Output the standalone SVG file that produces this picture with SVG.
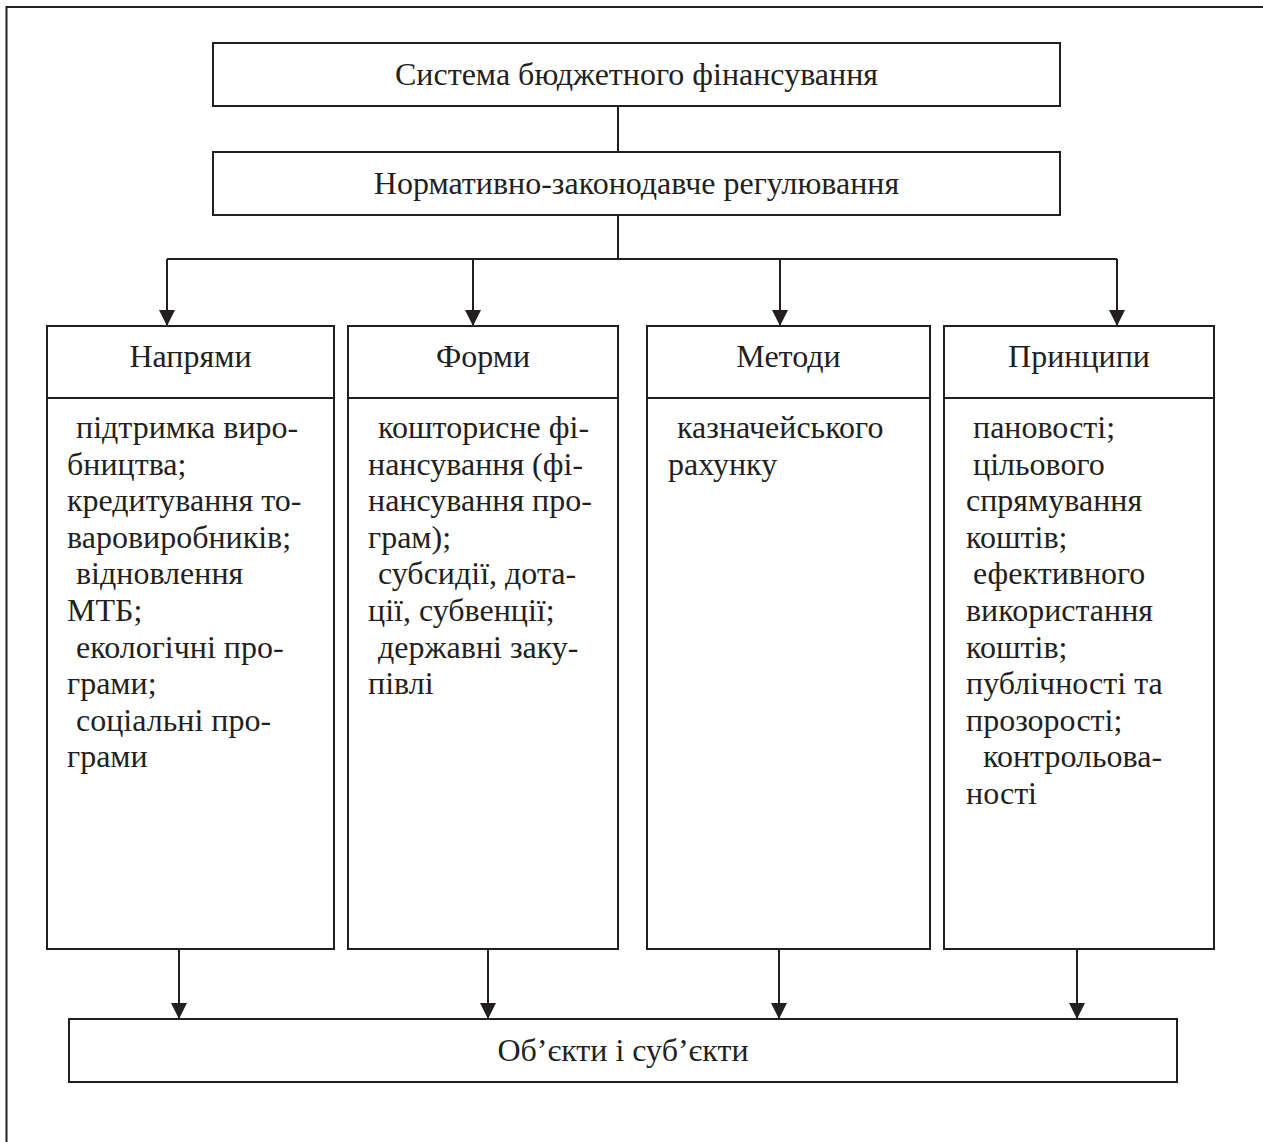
<svg xmlns="http://www.w3.org/2000/svg" width="1263" height="1142" viewBox="0 0 1263 1142">
<style>
.box{fill:#fff;stroke:#231f20;stroke-width:2}
.ln{fill:none;stroke:#231f20;stroke-width:2}
.t{font-family:"Liberation Serif","Times New Roman",serif;font-size:32px;fill:#231f20}
.c{text-anchor:middle}
</style>
<defs>
<marker id="ah" markerUnits="userSpaceOnUse" markerWidth="16" markerHeight="16" viewBox="0 0 16 16" refX="16" refY="8" orient="auto">
<path d="M0,0 L16,8 L0,16 Z" fill="#231f20"/>
</marker>
</defs>
<rect width="1263" height="1142" fill="#fff"/>
<g id="frame">
<path class="ln" d="M6.5,1142 V7 H1263"/>
</g>
<g id="connectors">
<path class="ln" d="M618,106 V152"/>
<path class="ln" d="M618,215 V259"/>
<path class="ln" d="M167,259 H1117"/>
<path class="ln" d="M167,259 V326" marker-end="url(#ah)"/>
<path class="ln" d="M473,259 V326" marker-end="url(#ah)"/>
<path class="ln" d="M780,259 V326" marker-end="url(#ah)"/>
<path class="ln" d="M1117,259 V326" marker-end="url(#ah)"/>
<path class="ln" d="M179,949 V1019" marker-end="url(#ah)"/>
<path class="ln" d="M488,949 V1019" marker-end="url(#ah)"/>
<path class="ln" d="M779,949 V1019" marker-end="url(#ah)"/>
<path class="ln" d="M1077,949 V1019" marker-end="url(#ah)"/>
</g>
<g id="n-system">
<rect class="box" x="213" y="43" width="847" height="63"/>
<text class="t c" x="636.5" y="85">Система бюджетного фінансування</text>
</g>
<g id="n-regulation">
<rect class="box" x="213" y="152" width="847" height="63"/>
<text class="t c" x="636.5" y="194">Нормативно-законодавче регулювання</text>
</g>
<g id="n-napriamy">
<rect class="box" x="47" y="326" width="287" height="623"/>
<path class="ln" d="M47,398 H334"/>
<text class="t c" x="190.5" y="367">Напрями</text>
<text class="t" x="76" y="438">підтримка виро-</text>
<text class="t" x="67" y="474.6">бництва;</text>
<text class="t" x="67" y="511.2">кредитування то-</text>
<text class="t" x="67" y="547.8">варовиробників;</text>
<text class="t" x="76" y="584.4">відновлення</text>
<text class="t" x="67" y="621">МТБ;</text>
<text class="t" x="76" y="657.6">екологічні про-</text>
<text class="t" x="67" y="694.2">грами;</text>
<text class="t" x="76" y="730.8">соціальні про-</text>
<text class="t" x="67" y="767.4">грами</text>
</g>
<g id="n-formy">
<rect class="box" x="348" y="326" width="270" height="623"/>
<path class="ln" d="M348,398 H618"/>
<text class="t c" x="483" y="367">Форми</text>
<text class="t" x="378" y="438">кошторисне фі-</text>
<text class="t" x="368" y="474.6">нансування (фі-</text>
<text class="t" x="368" y="511.2">нансування про-</text>
<text class="t" x="368" y="547.8">грам);</text>
<text class="t" x="378" y="584.4">субсидії, дота-</text>
<text class="t" x="368" y="621">ції, субвенції;</text>
<text class="t" x="378" y="657.6">державні заку-</text>
<text class="t" x="368" y="694.2">півлі</text>
</g>
<g id="n-metody">
<rect class="box" x="647" y="326" width="283" height="623"/>
<path class="ln" d="M647,398 H930"/>
<text class="t c" x="788.5" y="367">Методи</text>
<text class="t" x="677" y="438">казначейського</text>
<text class="t" x="668" y="474.6">рахунку</text>
</g>
<g id="n-pryntsypy">
<rect class="box" x="944" y="326" width="270" height="623"/>
<path class="ln" d="M944,398 H1214"/>
<text class="t c" x="1079" y="367">Принципи</text>
<text class="t" x="973" y="438">пановості;</text>
<text class="t" x="973" y="474.6">цільового</text>
<text class="t" x="966" y="511.2">спрямування</text>
<text class="t" x="966" y="547.8">коштів;</text>
<text class="t" x="973" y="584.4">ефективного</text>
<text class="t" x="966" y="621">використання</text>
<text class="t" x="966" y="657.6">коштів;</text>
<text class="t" x="966" y="694.2">публічності та</text>
<text class="t" x="966" y="730.8">прозорості;</text>
<text class="t" x="983" y="767.4">контрольова-</text>
<text class="t" x="966" y="804">ності</text>
</g>
<g id="n-objects">
<rect class="box" x="69" y="1019" width="1108" height="63"/>
<text class="t c" x="623" y="1061">Об’єкти і суб’єкти</text>
</g>
</svg>
